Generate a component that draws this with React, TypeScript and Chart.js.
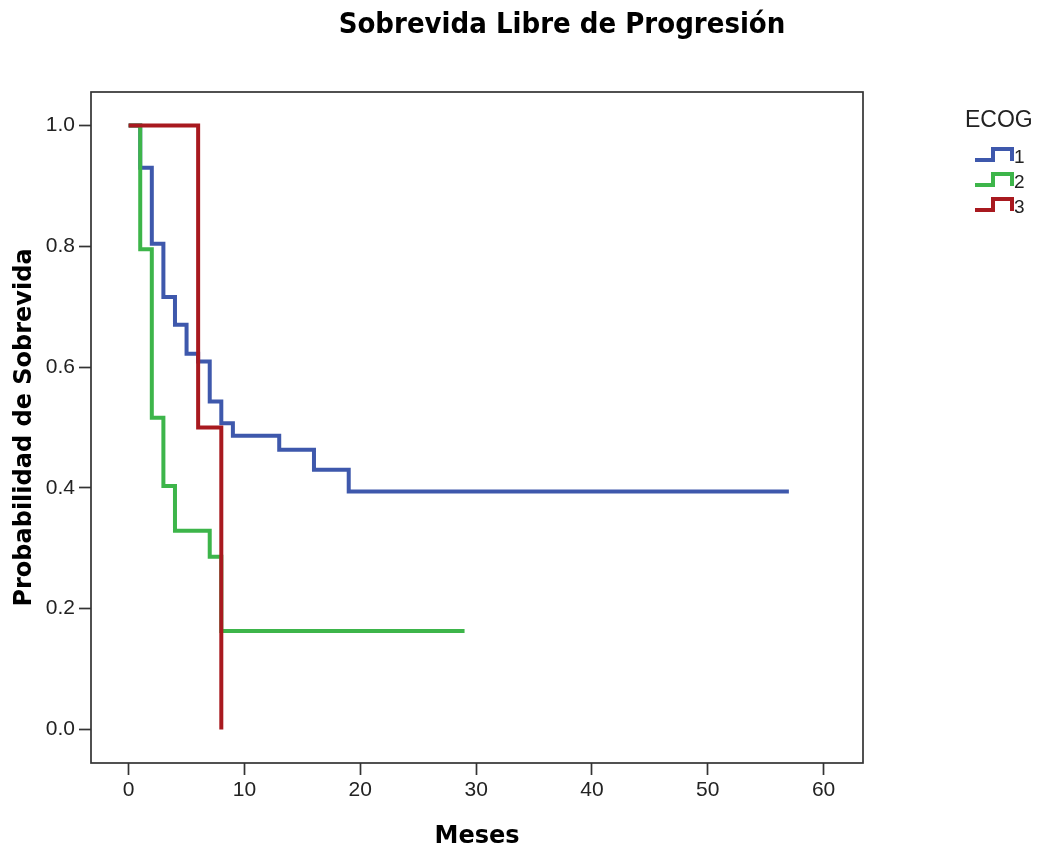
import React, { useEffect, useRef } from "react";
import { Chart, registerables } from "chart.js";

Chart.register(...registerables);

// ---- text ----
const TITLE = "Sobrevida Libre de Progresión";
const X_TITLE = "Meses";
const Y_TITLE = "Probabilidad de Sobrevida";
const LEGEND_TITLE = "ECOG";
const GROUP_LABELS = ["1", "2", "3"];

// ---- data (Kaplan-Meier steps) ----
const ecog1Times = [0, 1, 2, 3, 4, 5, 6, 7, 8, 9, 13, 16, 19, 57];
const ecog1Surv = [1, 0.93, 0.804, 0.716, 0.67, 0.622, 0.609, 0.543, 0.507, 0.486, 0.463, 0.43, 0.394, 0.394];
const ecog2Times = [0, 1, 2, 3, 4, 7, 8, 29];
const ecog2Surv = [1, 0.795, 0.516, 0.403, 0.329, 0.286, 0.163, 0.163];
const ecog3Times = [0, 6, 8];
const ecog3Surv = [1, 0.5, 0];

const xTickValues = [0, 10, 20, 30, 40, 50, 60];
const yTickValues = [0, 0.2, 0.4, 0.6, 0.8, 1.0];

const COLORS = ["#3e58ac", "#3db54a", "#a8191f"];

const toPoints = (ts: number[], ss: number[]) => ts.map((t, i) => ({ x: t, y: ss[i] }));

const decorPlugin = {
  id: "decor",
  afterDraw(chart: any) {
    const { ctx, chartArea: a } = chart;
    ctx.save();
    // plot box
    ctx.strokeStyle = "#333";
    ctx.lineWidth = 1.7;
    ctx.strokeRect(a.left, a.top, a.right - a.left, a.bottom - a.top);

    // title
    ctx.fillStyle = "#000";
    ctx.font = "bold 29px 'DejaVu Sans Condensed', 'Liberation Sans Narrow', 'Liberation Sans', Arial";
    ctx.textAlign = "center";
    ctx.textBaseline = "alphabetic";
    ctx.fillText(TITLE, 562, 33);

    // legend
    ctx.textAlign = "left";
    ctx.fillStyle = "#222";
    ctx.font = "23px 'Liberation Sans', Arial";
    ctx.fillText(LEGEND_TITLE, 965, 127);
    ctx.font = "19px 'Liberation Sans', Arial";
    GROUP_LABELS.forEach((lab, i) => {
      const c = 156.5 + 25 * i;
      const low = c + 3.5;
      const high = c - 7.5;
      ctx.strokeStyle = COLORS[i];
      ctx.lineWidth = 4;
      ctx.lineJoin = "miter";
      ctx.lineCap = "butt";
      ctx.beginPath();
      ctx.moveTo(975, low);
      ctx.lineTo(993, low);
      ctx.lineTo(993, high);
      ctx.lineTo(1012, high);
      ctx.lineTo(1012, low + 1);
      ctx.stroke();
      ctx.fillStyle = "#222";
      ctx.fillText(lab, 1014, c + 6.5);
    });
    ctx.restore();
  },
};

export default function App() {
  const ref = useRef<HTMLCanvasElement | null>(null);

  useEffect(() => {
    if (!ref.current) return;
    const tickFont = { family: "'Liberation Sans', Arial", size: 21 };
    const titleFont = { family: "'DejaVu Sans', sans-serif", size: 24, weight: "bold" as const };
    const gridOpts = {
      drawOnChartArea: false,
      drawTicks: true,
      tickLength: 12,
      tickColor: "#333",
      tickWidth: 1.7,
    };
    const mk = (label: string, ts: number[], ss: number[], i: number, order: number) => ({
      label,
      data: toPoints(ts, ss),
      borderColor: COLORS[i],
      backgroundColor: COLORS[i],
      borderWidth: 4,
      pointRadius: 0,
      pointHoverRadius: 0,
      stepped: "before" as const,
      fill: false,
      tension: 0,
      borderJoinStyle: "miter" as const,
      borderCapStyle: "butt" as const,
      order,
    });

    const chart = new Chart(ref.current, {
      type: "line",
      data: {
        datasets: [
          mk(GROUP_LABELS[0], ecog1Times, ecog1Surv, 0, 3),
          mk(GROUP_LABELS[1], ecog2Times, ecog2Surv, 1, 2),
          mk(GROUP_LABELS[2], ecog3Times, ecog3Surv, 2, 1),
        ],
      },
      options: {
        animation: false,
        responsive: false,
        maintainAspectRatio: false,
        layout: { padding: { left: 0, top: 92, right: 178, bottom: 0 } },
        plugins: {
          legend: { display: false },
          tooltip: { enabled: false },
          title: { display: false },
        },
        scales: {
          x: {
            type: "linear",
            min: -3.25,
            max: 63.4,
            afterFit: (s: any) => {
              s.height = 89;
            },
            afterBuildTicks: (s: any) => {
              s.ticks = xTickValues.map((v) => ({ value: v }));
            },
            ticks: {
              font: tickFont,
              color: "#222",
              padding: 3,
              maxRotation: 0,
              autoSkip: false,
              callback: (v: any) => String(v),
            },
            grid: gridOpts,
            border: { display: false },
            title: {
              display: true,
              text: X_TITLE,
              font: titleFont,
              color: "#000",
              padding: { top: 0, bottom: 1 },
            },
          },
          y: {
            type: "linear",
            min: -0.0556,
            max: 1.0553,
            afterFit: (s: any) => {
              s.width = 91;
            },
            afterBuildTicks: (s: any) => {
              s.ticks = yTickValues.map((v) => ({ value: v }));
            },
            ticks: {
              font: tickFont,
              color: "#222",
              padding: 4,
              autoSkip: false,
              callback: (v: any) => Number(v).toFixed(1),
            },
            grid: gridOpts,
            border: { display: false },
            title: {
              display: true,
              text: Y_TITLE,
              font: titleFont,
              color: "#000",
              padding: { top: 10.6, bottom: 0 },
            },
          },
        },
      },
      plugins: [decorPlugin],
    });
    return () => chart.destroy();
  }, []);

  return (
    <div style={{ position: "fixed", left: 0, top: 0, width: 1041, height: 852, background: "#fff" }}>
      <canvas ref={ref} width={1041} height={852} style={{ display: "block" }} />
    </div>
  );
}
